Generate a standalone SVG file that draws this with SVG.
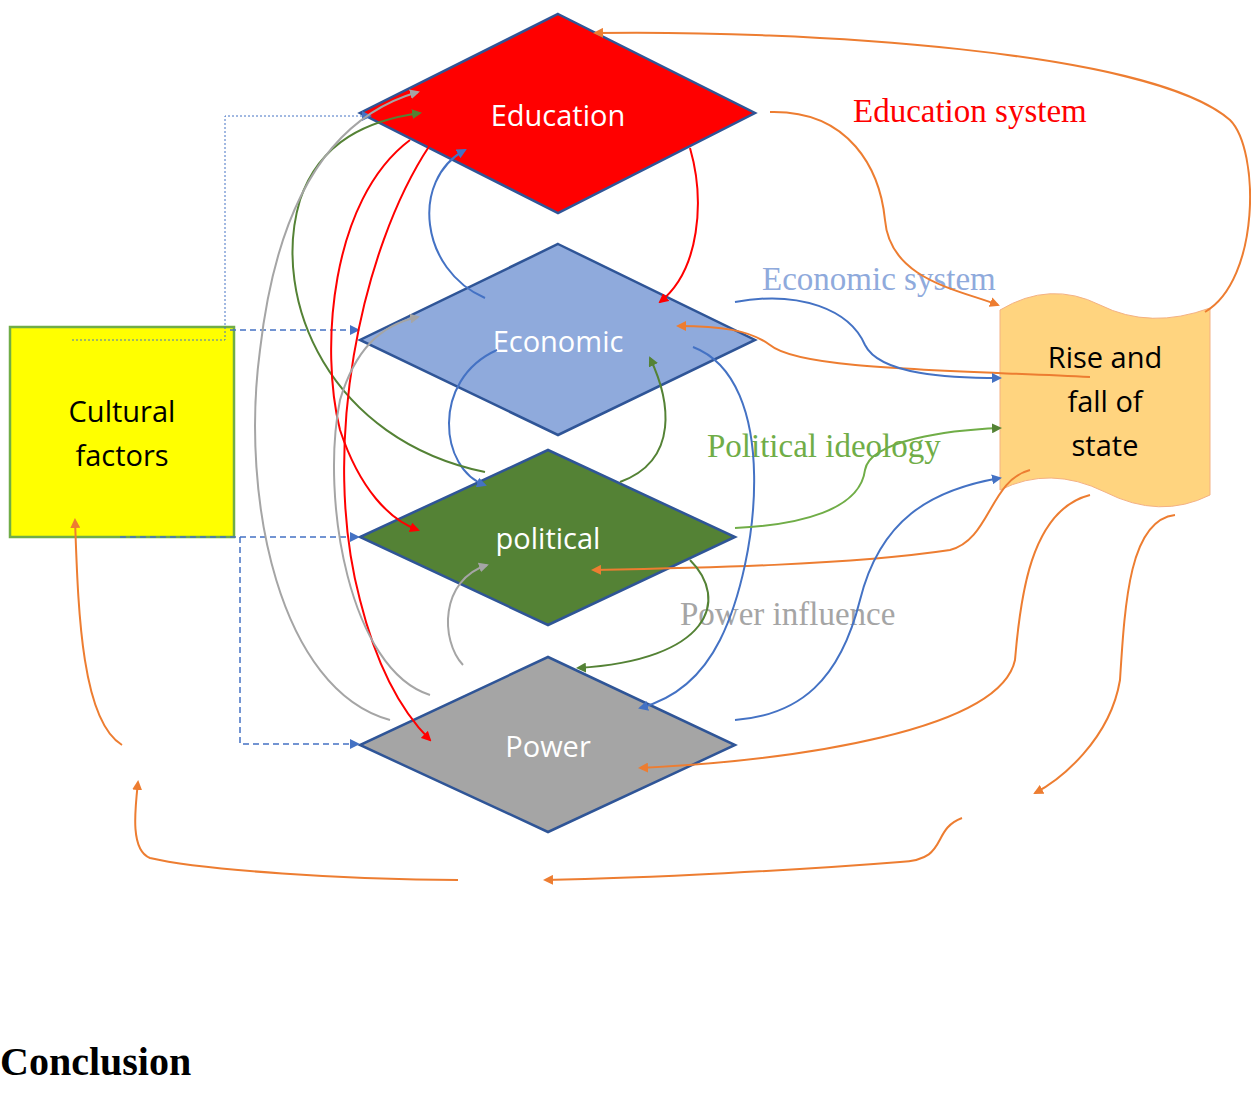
<svg xmlns="http://www.w3.org/2000/svg" width="1251" height="1093" viewBox="0 0 1251 1093">
<style>
.n{stroke:#2f5597;stroke-width:2.5}
.t{font-family:"Open Sans","DejaVu Sans",sans-serif;font-size:29px;text-anchor:middle}
.s{font-family:"Liberation Serif",serif;font-size:33px}
.c path{fill:none;stroke-width:2}
.o{stroke:#ed7d31}.b{stroke:#4472c4}.g{stroke:#548235}.r{stroke:#ff0000}.y{stroke:#a5a5a5}
</style>
<defs>
<marker id="mo" markerWidth="10" markerHeight="10" refX="8" refY="5" orient="auto" markerUnits="userSpaceOnUse"><path d="M0,0 L10,5 L0,10 z" fill="#ed7d31"/></marker>
<marker id="mb" markerWidth="10" markerHeight="10" refX="8" refY="5" orient="auto" markerUnits="userSpaceOnUse"><path d="M0,0 L10,5 L0,10 z" fill="#4472c4"/></marker>
<marker id="mg" markerWidth="10" markerHeight="10" refX="8" refY="5" orient="auto" markerUnits="userSpaceOnUse"><path d="M0,0 L10,5 L0,10 z" fill="#548235"/></marker>
<marker id="mr" markerWidth="10" markerHeight="10" refX="8" refY="5" orient="auto" markerUnits="userSpaceOnUse"><path d="M0,0 L10,5 L0,10 z" fill="#ff0000"/></marker>
<marker id="my" markerWidth="10" markerHeight="10" refX="8" refY="5" orient="auto" markerUnits="userSpaceOnUse"><path d="M0,0 L10,5 L0,10 z" fill="#a5a5a5"/></marker>
</defs>
<rect width="1251" height="1093" fill="#fff"/>
<g id="cultural"><rect x="10" y="327" width="224" height="210" fill="#ffff00" stroke="#70ad47" stroke-width="2.5"/><text class="t" x="122" y="422" fill="#000">Cultural</text><text class="t" x="122" y="466" fill="#000">factors</text></g>
<g id="education"><polygon class="n" points="558,14 755,113 558,213 360,113" fill="#ff0000"/><text class="t" x="558" y="126" fill="#fff">Education</text></g>
<g id="economic"><polygon class="n" points="558,244 755,340 558,435 360,340" fill="#8faadc"/><text class="t" x="558" y="352" fill="#fff">Economic</text></g>
<g id="political"><polygon class="n" points="548,450 735,537 548,625 360,537" fill="#548235"/><text class="t" x="548" y="549" fill="#fff">political</text></g>
<g id="power"><polygon class="n" points="548,657 735,745 548,832 360,745" fill="#a5a5a5"/><text class="t" x="548" y="757" fill="#fff">Power</text></g>
<g id="state"><path d="M1000,310 Q1050,280 1100,305 Q1150,330 1210,308 L1210,495 Q1160,520 1105,492 Q1050,465 1000,490 Z" fill="#ffd47f" stroke="#f4b183" stroke-width="1"/><text class="t" x="1105" y="368" fill="#000">Rise and</text><text class="t" x="1105" y="412" fill="#000">fall of</text><text class="t" x="1105" y="456" fill="#000">state</text></g>
<g id="labels">
<text class="s" x="853" y="122" fill="#ff0000">Education system</text>
<text class="s" x="762" y="290" fill="#8faadc">Economic system</text>
<text class="s" x="707" y="457" fill="#70ad47">Political ideology</text>
<text class="s" x="680" y="625" fill="#a5a5a5">Power influence</text>
<text x="0" y="1075" font-family="Liberation Serif,serif" font-size="40" font-weight="bold" fill="#000">Conclusion</text>
</g>
<g id="connectors" class="c">
<path class="b" d="M230,330 L358,330" stroke-dasharray="6,4" style="stroke-width:1.5" marker-end="url(#mb)"/>
<path class="b" d="M120,537 L358,537" stroke-dasharray="6,4" style="stroke-width:1.5" marker-end="url(#mb)"/>
<path class="b" d="M240,537 L240,744 L358,744" stroke-dasharray="6,4" style="stroke-width:1.5" marker-end="url(#mb)"/>
<path class="b" d="M72,340 L225,340 L225,116 L370,116" stroke-dasharray="2,2" style="stroke-width:1" marker-end="url(#mb)"/>
<path class="o" d="M1205,312 C1260,280 1260,150 1230,120 C1150,50 800,30 595,33" marker-end="url(#mo)"/>
<path class="o" d="M770,112 C850,110 880,170 885,220 C890,280 960,290 998,305" marker-end="url(#mo)"/>
<path class="o" d="M1090,377 C950,370 800,370 770,345 C750,330 720,326 678,326" marker-end="url(#mo)"/>
<path class="o" d="M1030,470 C990,480 990,540 950,550 C850,565 700,568 593,570" marker-end="url(#mo)"/>
<path class="o" d="M1090,495 C1030,510 1020,600 1015,660 C1000,730 800,760 640,768" marker-end="url(#mo)"/>
<path class="o" d="M1175,515 C1130,520 1125,600 1120,680 C1110,740 1060,780 1035,793" marker-end="url(#mo)"/>
<path class="o" d="M962,818 C930,830 950,860 900,862 C800,870 650,878 545,880" marker-end="url(#mo)"/>
<path class="o" d="M458,880 C350,880 200,870 150,858 C130,850 135,810 138,782" marker-end="url(#mo)"/>
<path class="o" d="M122,745 C80,720 78,600 75,520" marker-end="url(#mo)"/>
<path class="b" d="M485,298 C420,270 410,180 465,150" marker-end="url(#mb)"/>
<path class="b" d="M497,350 C430,380 440,470 485,485" marker-end="url(#mb)"/>
<path class="b" d="M693,347 C780,380 760,560 720,640 C700,680 670,700 640,708" marker-end="url(#mb)"/>
<path class="b" d="M735,720 C800,715 840,680 860,600 C880,520 930,490 1000,478" marker-end="url(#mb)"/>
<path class="b" d="M735,302 C800,290 850,310 865,345 C880,375 950,378 1000,378" marker-end="url(#mb)"/>
<path class="g" style="stroke:#70ad47" d="M735,528 C800,525 860,510 865,470 C870,440 950,430 1000,428" marker-end="url(#mg)"/>
<path class="g" d="M620,482 C680,460 670,400 650,358" marker-end="url(#mg)"/>
<path class="g" d="M690,560 C730,600 710,660 578,668" marker-end="url(#mg)"/>
<path class="g" d="M485,472 C330,440 270,300 300,200 C320,140 370,120 420,113" marker-end="url(#mg)"/>
<path class="r" d="M690,148 C705,200 700,270 660,302" marker-end="url(#mr)"/>
<path class="r" d="M410,140 C330,200 320,350 340,430 C360,490 390,520 418,530" marker-end="url(#mr)"/>
<path class="r" d="M430,145 C360,250 320,450 360,600 C380,680 410,720 430,740" marker-end="url(#mr)"/>
<path class="y" d="M390,720 C280,690 240,500 260,350 C275,220 320,120 418,92" marker-end="url(#my)"/>
<path class="y" d="M430,695 C350,670 320,500 340,400 C355,350 380,325 418,317" marker-end="url(#my)"/>
<path class="y" d="M463,665 C440,640 440,580 487,565" marker-end="url(#my)"/>
</g>
</svg>
